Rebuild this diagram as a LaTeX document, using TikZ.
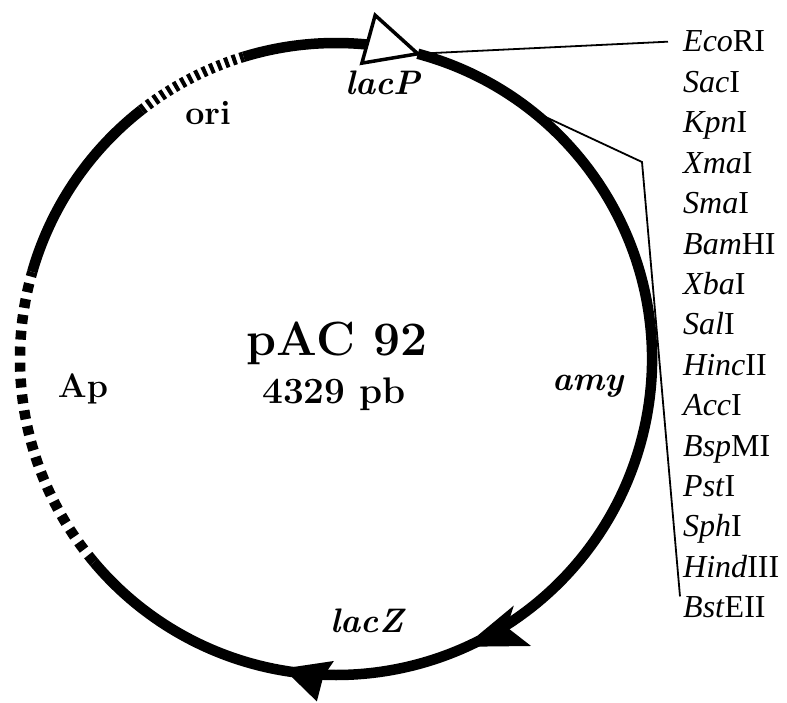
\documentclass[tikz,border=0pt]{standalone}
\usepackage{fontspec}
\newfontfamily\sitefont{Liberation Serif}
\usetikzlibrary{positioning}

\tikzset{
	dna/.style = {line width = 10.5pt},
	oridash/.style = {dna, dash pattern = on 4pt off 4pt},
	apdash/.style = {dna, dash pattern = on 9pt off 7pt},
	leader/.style = {line width = 1.8pt},
	site/.style = {font = \sitefont\fontsize{32}{38}\selectfont, inner sep = 0pt, anchor = base west},
	gene/.style = {font = \bfseries\itshape\fontsize{34}{40}\selectfont, inner sep = 0pt, anchor = base},
	marker/.style = {font = \bfseries\fontsize{34}{40}\selectfont, inner sep = 0pt, anchor = base}
}

\begin{document}
\begin{tikzpicture}[x = 1pt, y = 1pt]
	
	% Frame
	
	\useasboundingbox (-336, -343) rectangle (451, 359);
	
	% Plasmid ring
	
	\draw [dna] (164 : 316) arc (164 : 128 : 316);
	\draw [oridash] (128 : 316) arc (128 : 107 : 316);
	\draw [dna] (107 : 316) arc (107 : 84 : 316);
	\draw [dna] (75 : 316) arc (75 : -60 : 316);
	\draw [dna] (-63 : 316) arc (-63 : -95 : 316);
	\draw [dna] (-95 : 316) arc (-95 : -140 : 316);
	\draw [apdash] (-140 : 316) arc (-140 : -196 : 316);
	
	% Arrow heads
	
	\filldraw [fill = white, line width = 3.5pt, line join = miter] (83.5 : 346) -- (75 : 316) -- (85 : 297) -- cycle;
	\fill (-66 : 315) -- (-55.8 : 347) -- (-57.5 : 318) -- (-54.2 : 304) -- cycle;
	\fill (-99.7 : 314) -- (-93.2 : 343) -- (-92.3 : 318) -- (-90.4 : 302) -- cycle;
	
	% Labels inside the ring
	
	\node [font = \bfseries\fontsize{48}{58}\selectfont, inner sep = 0pt, anchor = base] (name) at (1, 4) {pAC 92};
	\node [font = \bfseries\fontsize{37}{44}\selectfont, inner sep = 0pt, anchor = base] (size) at (-2, -44) {4329 pb};
	\node [gene] (lacP) at (47, 264) {lacP};
	\node [gene] (lacZ) at (31, -273) {lacZ};
	\node [gene] (amy) at (252, -31) {amy};
	\node [marker] (ori) at (-128, 234) {ori};
	\node [marker] (Ap) at (-253, -38) {Ap};
	
	% Restriction sites
	
	\foreach \enzyme [count = \i] in {\textit{Eco}RI, \textit{Sac}I, \textit{Kpn}I, \textit{Xma}I, \textit{Sma}I, \textit{Bam}HI, \textit{Xba}I, \textit{Sal}I, \textit{Hinc}II, \textit{Acc}I, \textit{Bsp}MI, \textit{Pst}I, \textit{Sph}I, \textit{Hind}III, \textit{Bst}EII}
		\node [site] (site\i) at (347, 307 - 40.4 * \i + 40.4) {\enzyme};
	
	% Leader lines to the polylinker
	
	\coordinate (mcs1) at (75 : 316);
	\coordinate (mcs2) at (52 : 316);
	\coordinate (bend) at (306, 197);
	
	\draw [leader] (mcs1) -- ([xshift = -15]site1.west);
	\draw [leader] (mcs2) -- (bend) -- ([xshift = -3]site15.north west);

\end{tikzpicture}
\end{document}
